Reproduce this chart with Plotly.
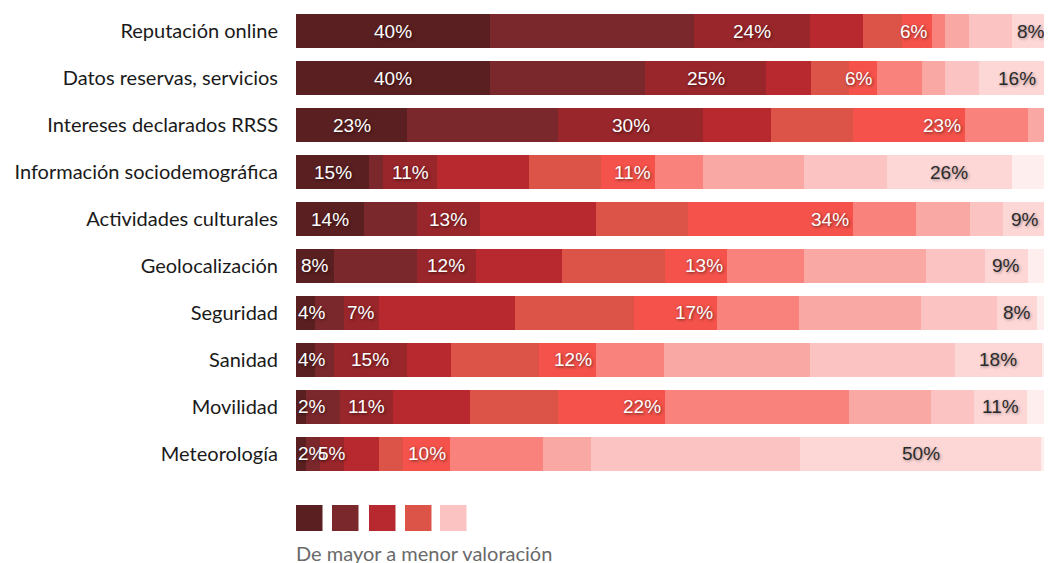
import plotly.graph_objects as go

categorias = ["Reputación online", "Datos reservas, servicios", "Intereses declarados RRSS",
              "Información sociodemográfica", "Actividades culturales", "Geolocalización",
              "Seguridad", "Sanidad", "Movilidad", "Meteorología"]

# Valoración de mayor (s1) a menor (s11), en %
s1 = [40, 40, 22.9, 15.1, 14.0, 7.8, 3.9, 3.9, 2.1, 2.1]
s2 = [42, 32, 31.1, 2.9, 10.9, 17.1, 6.0, 3.9, 7.0, 2.9]
s3 = [24, 25, 30.0, 11.1, 13.0, 12.2, 7.2, 15.1, 10.9, 4.9]
s4 = [10.9, 9.1, 13.9, 19.0, 23.9, 17.7, 28.0, 9.1, 15.9, 7.2]
s5 = [8.1, 8.0, 16.9, 14.8, 19.0, 21.2, 24.7, 18.1, 18.1, 4.9]
s6 = [6.2, 5.8, 23.1, 11.1, 34.0, 12.8, 17.1, 11.8, 22.1, 9.7]
s7 = [2.7, 9.2, 13.0, 9.9, 13.0, 15.9, 16.9, 14.0, 37.9, 19.2]
s8 = [4.9, 4.8, 4.1, 20.8, 11.1, 25.2, 25.1, 30.0, 17.0, 9.9]
s9 = [8.9, 7.0, 0, 17.1, 6.9, 12.1, 15.7, 30.0, 8.9, 43.1]
s10 = [7.8, 15.6, 0, 25.9, 9.2, 8.9, 8.2, 17.9, 10.9, 49.8]
s11 = [0.5, 0, 0, 8.0, 0, 5.0, 2.9, 2.1, 5.0, 2.1]

series = [s1, s2, s3, s4, s5, s6, s7, s8, s9, s10, s11]
colores = ["#5a1f20", "#7b282d", "#98262b", "#b7292e", "#dc5448", "#f4524a",
           "#f9827c", "#f9a8a4", "#fbc3c1", "#fdd6d6", "#ffeeee"]

leyenda_colores = ["#5a1f20", "#7b282d", "#b7292e", "#dc5448", "#fbc3c1"]
leyenda_texto = "De mayor a menor valoración"

# segment index -> (anchor, text colour)
etiquetas = {0: ("middle", "white"), 2: ("middle", "white"),
             5: ("end", "white"), 9: ("middle", "#2a2a2a")}

X_MAX = 155.9

# page body has an 8px margin: work in page pixels and convert
OFF = 8
W, H = 1052 - OFF, 563 - OFF
L, T, PW, PH = 296 - OFF, 0, 756, 469
B = H - T - PH

fig = go.Figure()
for i, (vals, col) in enumerate(zip(series, colores)):
    fig.add_trace(go.Bar(
        y=categorias, x=vals, orientation="h", marker=dict(color=col, line=dict(width=0)),
        hoverinfo="skip", showlegend=False))

annotations = []
for r, cat in enumerate(categorias):
    start = 0.0
    for i, vals in enumerate(series):
        v = vals[r]
        if i in etiquetas and v > 0.5:
            anchor, tcol = etiquetas[i]
            shadow = "1px 1px 3px rgba(0,0,0,0.55)" if tcol == "white" else "1px 1px 3px rgba(0,0,0,0.35)"
            txt = f"{round(v):d}%"
            if anchor == "middle":
                if i == 0 and v < 6:
                    x, xa, xs = start, "left", 0
                else:
                    x, xa, xs = start + v / 2, "center", 0
            else:
                x, xa, xs = start + v, "right", -2
            annotations.append(dict(
                x=x, y=cat, xref="x", yref="y", text=txt, showarrow=False,
                xanchor=xa, yanchor="middle", xshift=xs,
                font=dict(family="Liberation Sans, Arial, sans-serif", size=19,
                          color=tcol, shadow=shadow)))
        start += v


def px_to_paper_x(px):
    return (px - OFF - L) / PW


def py_to_paper_y(py):
    return (T + PH - (py - OFF)) / PH


shapes = []
sw_left = [296, 332, 369, 405, 440]
for xl, col in zip(sw_left, leyenda_colores):
    shapes.append(dict(type="rect", xref="paper", yref="paper",
                       x0=px_to_paper_x(xl), x1=px_to_paper_x(xl + 26.5),
                       y0=py_to_paper_y(531), y1=py_to_paper_y(505),
                       fillcolor=col, line=dict(width=0)))

annotations.append(dict(x=0, y=py_to_paper_y(553), xref="paper", yref="paper",
                        text=leyenda_texto, showarrow=False, xanchor="left", yanchor="middle",
                        xshift=-2,
                        font=dict(family="Lato, sans-serif", size=20, color="#6a6a6a")))

fig.update_layout(
    barmode="stack", bargap=0.275,
    width=W, height=H,
    margin=dict(l=L, r=W - L - PW, t=T, b=B, pad=0),
    paper_bgcolor="white", plot_bgcolor="white",
    xaxis=dict(visible=False, range=[0, X_MAX], fixedrange=True),
    yaxis=dict(type="category", categoryorder="array", categoryarray=categorias,
               range=[9.5, -0.5], showgrid=False, zeroline=False, showline=False, ticks="",
               ticklabelstandoff=17, tickfont=dict(family="Lato, sans-serif", size=20, color="#1a1a1a")),
    annotations=annotations, shapes=shapes,
)

fig.write_html("out.html")
